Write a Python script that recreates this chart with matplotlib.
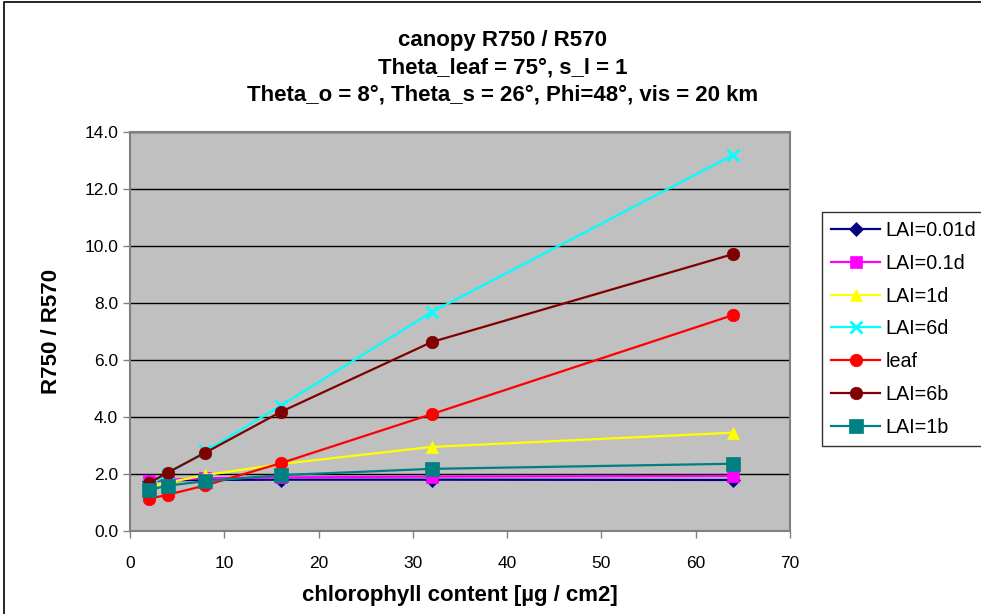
import matplotlib
matplotlib.use("Agg")
import matplotlib.pyplot as plt
from matplotlib.patches import Rectangle

plt.rcParams['font.family'] = ['Liberation Sans', 'DejaVu Sans']

# chlorophyll content [ug / cm2]
chl = [2, 4, 8, 16, 32, 64]

lai_001d = [1.75, 1.78, 1.79, 1.80, 1.80, 1.79]
lai_01d = [1.76, 1.80, 1.85, 1.88, 1.91, 1.93]
lai_1d = [1.55, 1.70, 1.96, 2.35, 2.95, 3.45]
lai_6d = [1.60, 2.00, 2.80, 4.40, 7.68, 13.20]
leaf = [1.13, 1.27, 1.60, 2.38, 4.10, 7.58]
lai_6b = [1.68, 2.05, 2.75, 4.18, 6.63, 9.72]
lai_1b = [1.44, 1.59, 1.75, 1.96, 2.18, 2.36]

series = [
    ("LAI=0.01d", lai_001d, "#000080", "D", 7),
    ("LAI=0.1d", lai_01d, "#FF00FF", "s", 8),
    ("LAI=1d", lai_1d, "#FFFF00", "^", 9),
    ("LAI=6d", lai_6d, "#00FFFF", "x", 9),
    ("leaf", leaf, "#FF0000", "o", 9),
    ("LAI=6b", lai_6b, "#800000", "o", 9),
    ("LAI=1b", lai_1b, "#008080", "s", 10),
]

fig = plt.figure(figsize=(9.81, 6.14), dpi=100)
ax = fig.add_axes([0.1325, 0.1352, 0.6728, 0.6498])
ax.set_facecolor("#C0C0C0")

for label, vals, col, mk, ms in series:
    ax.plot(chl, vals, color=col, marker=mk, markersize=ms, linewidth=1.6,
            markeredgewidth=2 if mk == "x" else 0.5, markeredgecolor=col,
            label=label, zorder=3)

ax.set_xlim(0, 70)
ax.set_ylim(0, 14)
ax.set_xticks(range(0, 71, 10))
ax.set_yticks([i * 2.0 for i in range(8)])
ax.set_yticklabels(["%.1f" % (i * 2.0) for i in range(8)])
ax.grid(axis="y", color="black", linewidth=1)
ax.set_axisbelow(True)
for s in ax.spines.values():
    s.set_color("#808080")
    s.set_linewidth(1.5)
ax.tick_params(axis="both", labelsize=12.5, length=5, color="#808080", width=1)
ax.tick_params(axis="x", pad=13)

ax.set_xlabel("chlorophyll content [µg / cm2]", fontsize=16, fontweight="bold", labelpad=10)
ax.set_ylabel("R750 / R570", fontsize=16, fontweight="bold", labelpad=16)

title_lines = [
    "canopy R750 / R570",
    "Theta_leaf = 75°, s_l = 1",
    "Theta_o = 8°, Theta_s = 26°, Phi=48°, vis = 20 km",
]
for i, line in enumerate(title_lines):
    fig.text(0.5127, 0.934 - i * 0.0445, line, ha="center", va="center",
             fontsize=16, fontweight="bold")

leg = fig.legend(loc="upper left", bbox_to_anchor=(0.838, 0.6547),
                 fontsize=14.2, frameon=True, fancybox=False, borderpad=0.45,
                 handlelength=2.5, labelspacing=0.7, handletextpad=0.25,
                 borderaxespad=0)
leg.get_frame().set_edgecolor("black")
leg.get_frame().set_linewidth(1)

# outer chart border
fig.patches.append(Rectangle((4 / 981, -0.1), 1.2, 1.1 - 2 / 614,
                             transform=fig.transFigure, fill=False,
                             edgecolor="black", linewidth=1.2))

fig.savefig("out.png", dpi=100, facecolor="white")
